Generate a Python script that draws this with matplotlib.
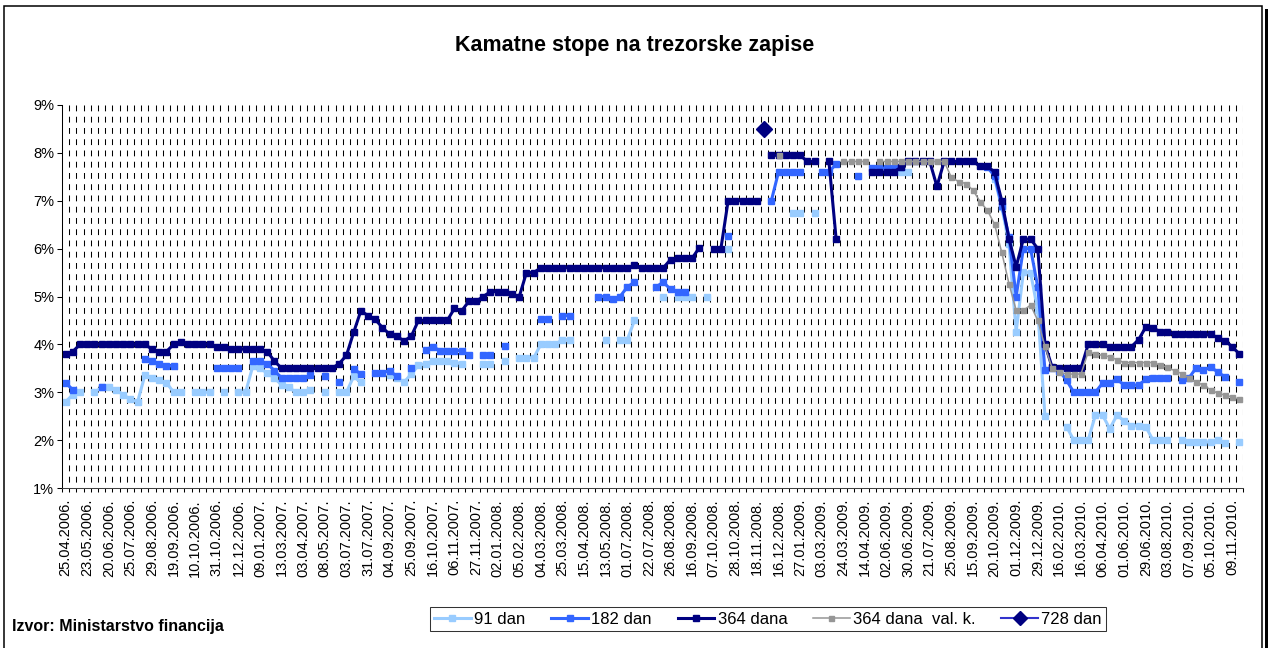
import numpy as np
import matplotlib.pyplot as plt
from matplotlib.patches import Rectangle
from matplotlib.lines import Line2D

plt.rcParams['font.family'] = ['Liberation Sans', 'DejaVu Sans']

# auction dates shown on the axis (every third auction)
dates = ['25.04.2006.', '23.05.2006.', '20.06.2006.', '25.07.2006.', '29.08.2006.',
         '19.09.2006.', '10.10.2006.', '31.10.2006.', '12.12.2006.', '09.01.2007.',
         '13.03.2007.', '03.04.2007.', '08.05.2007.', '03.07.2007.', '31.07.2007.',
         '04.09.2007.', '25.09.2007.', '16.10.2007.', '06.11.2007.', '27.11.2007.',
         '02.01.2008.', '05.02.2008.', '04.03.2008.', '25.03.2008.', '15.04.2008.',
         '13.05.2008.', '01.07.2008.', '22.07.2008.', '26.08.2008.', '16.09.2008.',
         '07.10.2008.', '28.10.2008.', '18.11.2008.', '16.12.2008.', '27.01.2009.',
         '03.03.2009.', '24.03.2009.', '14.04.2009.', '02.06.2009.', '30.06.2009.',
         '21.07.2009.', '25.08.2009.', '15.09.2009.', '20.10.2009.', '01.12.2009.',
         '29.12.2009.', '16.02.2010.', '16.03.2010.', '06.04.2010.', '01.06.2010.',
         '29.06.2010.', '03.08.2010.', '07.09.2010.', '05.10.2010.', '09.11.2010.']
n = None

# 91 dan
t91 = [2.8, 2.95, 3.0, n, 3.0, 3.1, 3.1, 3.05, 2.95, 2.85,
       2.8, 3.35, 3.3, 3.25, 3.2, 3.0, 3.0, n, 3.0, 3.0,
       3.0, n, 3.0, n, 3.0, 3.0, 3.55, 3.5, 3.4, 3.3,
       3.15, 3.1, 3.0, 3.0, 3.05, n, 3.0, n, 3.0, 3.0,
       3.33, 3.21, n, n, n, 3.36, 3.3, 3.21, 3.38, 3.56,
       3.6, 3.65, 3.65, 3.65, 3.62, 3.6, n, n, 3.6, 3.6,
       n, 3.65, n, 3.72, 3.72, 3.72, 4.0, 4.0, 4.0, 4.1,
       4.1, n, n, n, n, 4.1, n, 4.1, 4.1, 4.5,
       n, n, n, 5.0, n, 5.0, 5.0, 5.0, n, 5.0,
       n, n, 6.0, n, n, n, n, n, n, n,
       n, 6.75, 6.75, n, 6.75, n, n, n, n, n,
       n, n, n, n, n, n, 7.6, 7.6, n, n,
       n, n, n, n, n, n, n, n, n, 7.45,
       6.87, 6.1, 4.26, 5.51, 5.5, 4.71, 2.5, n, n, 2.28,
       2.0, 2.0, 2.0, 2.52, 2.52, 2.24, 2.52, 2.4, 2.3, 2.3,
       2.28, 2.0, 2.0, 2.0, n, 2.0, 1.96, 1.96, 1.96, 1.96,
       2.0, 1.93, n, 1.97]

# 182 dan
t182 = [3.2, 3.05, n, n, n, 3.1, n, n, n, n,
        n, 3.7, 3.65, 3.6, 3.55, 3.55, n, n, n, n,
        n, 3.5, 3.5, 3.5, 3.5, n, 3.65, 3.65, 3.6, 3.45,
        3.3, 3.3, 3.3, 3.3, 3.35, n, 3.33, n, 3.21, n,
        3.49, 3.38, n, 3.41, 3.41, 3.45, 3.33, n, 3.51, n,
        3.89, 3.95, 3.87, 3.87, 3.87, 3.87, 3.77, n, 3.77, 3.77,
        n, 3.97, n, n, n, n, 4.52, 4.52, n, 4.6,
        4.6, n, n, n, 5.0, 5.0, 4.95, 5.0, 5.2, 5.3,
        n, n, 5.2, 5.3, 5.15, 5.1, 5.1, n, n, n,
        n, n, 6.26, n, n, n, n, n, 7.0, 7.6,
        7.6, 7.6, 7.6, n, n, 7.6, 7.6, 7.77, n, n,
        7.51, n, 7.68, 7.68, 7.68, 7.68, 7.7, n, n, n,
        n, n, n, n, n, n, n, n, 7.7, 7.52,
        6.9, 6.25, 5.0, 6.0, 6.0, 5.2, 3.47, 3.5, 3.45, 3.25,
        3.0, 3.0, 3.0, 3.0, 3.19, 3.2, 3.27, 3.15, 3.15, 3.15,
        3.27, 3.3, 3.3, 3.3, n, 3.25, 3.3, 3.51, 3.46, 3.53,
        3.42, 3.32, n, 3.21]

# 364 dana
t364 = [3.8, 3.85, 4.0, 4.0, 4.0, 4.0, 4.0, 4.0, 4.0, 4.0,
        4.0, 4.0, 3.9, 3.85, 3.85, 4.0, 4.05, 4.0, 4.0, 4.0,
        4.0, 3.95, 3.95, 3.9, 3.9, 3.9, 3.9, 3.9, 3.85, 3.65,
        3.5, 3.5, 3.5, 3.5, 3.5, 3.5, 3.5, 3.5, 3.6, 3.77,
        4.25, 4.7, 4.6, 4.52, 4.35, 4.21, 4.17, 4.07, 4.17, 4.5,
        4.5, 4.5, 4.5, 4.5, 4.75, 4.7, 4.9, 4.9, 5.0, 5.1,
        5.1, 5.1, 5.05, 5.0, 5.5, 5.5, 5.6, 5.6, 5.6, 5.6,
        5.6, 5.6, 5.6, 5.6, 5.6, 5.6, 5.6, 5.6, 5.6, 5.65,
        5.6, 5.6, 5.6, 5.6, 5.77, 5.8, 5.8, 5.8, 6.02, n,
        6.0, 6.0, 7.0, 7.0, 7.0, 7.0, 7.0, n, 7.95, 7.95,
        7.95, 7.95, 7.95, 7.82, 7.82, n, 7.82, 6.2, n, n,
        n, n, 7.6, 7.6, 7.6, 7.6, 7.7, 7.82, 7.82, 7.82,
        7.82, 7.3, 7.82, 7.82, 7.82, 7.82, 7.82, 7.72, 7.72, 7.6,
        7.0, 6.21, 5.62, 6.2, 6.2, 6.0, 4.0, 3.52, 3.5, 3.5,
        3.5, 3.5, 4.0, 4.0, 4.0, 3.95, 3.95, 3.95, 3.95, 4.1,
        4.36, 4.35, 4.26, 4.26, 4.21, 4.21, 4.21, 4.21, 4.21, 4.21,
        4.14, 4.08, 3.95, 3.8]

# 364 dana val. k.
t364vk = [n] * 99 + [7.95, n, n, n, n, n, n, n, n, 7.82,
                      7.82, 7.82, 7.82, n, 7.82, 7.82, 7.82, 7.82, 7.82, 7.82,
                      7.82, 7.82, 7.82, 7.82, 7.49, 7.4, 7.36, 7.22, 6.98, 6.8,
                      6.51, 5.92, 5.27, 4.71, 4.71, 4.82, 4.5, 3.96, 3.5, 3.42,
                      3.38, 3.38, 3.38, 3.84, 3.8, 3.77, 3.74, 3.68, 3.62, 3.62,
                      3.62, 3.62, 3.62, 3.57, 3.52, 3.45, 3.39, 3.3, 3.21, 3.15,
                      3.05, 2.98, 2.94, 2.9, 2.85]

# 728 dan
t728 = [n] * 97 + [8.5] + [n] * 66

series = [
    ('91 dan', t91, '#99CCFF', 2.2, 's', 4.3),
    ('182 dan', t182, '#3366FF', 2.2, 's', 4.3),
    ('364 dana', t364, '#000080', 2.2, 's', 4.3),
    ('364 dana  val. k.', t364vk, '#969696', 1.1, 's', 3.6),
]

fig = plt.figure(figsize=(12.7, 6.48), dpi=100)
ax = fig.add_axes([62 / 1270, 1 - 488 / 648, 1181 / 1270, 383 / 648])

x = np.arange(len(t364))
handles = []
for label, vals, color, lw, mk, ms in series:
    y = np.array(vals, dtype=float)
    h, = ax.plot(x, y, color=color, lw=lw, marker=mk, ms=ms,
                 mec=color, mfc=color, label=label, solid_joinstyle='miter')
    handles.append(h)
y728 = np.array(t728, dtype=float)
ax.plot(x, y728, color='#333399', lw=1.5, marker='D', ms=8, mfc='#000080', mec='#000080',
        ls='none')
handles.append(Line2D([], [], color='#3333CC', lw=1.5, marker='D', ms=7,
                      mfc='#000080', mec='#000080', label='728 dan'))

ax.set_xlim(-0.5, len(x) - 0.5)
ax.set_ylim(1, 9)

# dashed vertical grid at category boundaries
bounds = np.arange(0.5, len(x), 1.0)
ax.vlines(bounds, 9, 1, colors='black', lw=0.75, linestyles=(0, (5.6, 5.2)), zorder=0)

ax.set_yticks(range(1, 10))
ax.set_yticklabels([f'{v}%' for v in range(1, 10)])
ax.set_xticks(np.arange(0, len(x), 3))
ax.set_xticklabels(dates, rotation=90)
ax.set_xticks(np.arange(-0.5, len(x), 1.0), minor=True)
ax.tick_params(axis='x', which='major', length=0, pad=8, labelsize=10.5)
ax.tick_params(axis='x', which='minor', length=3, width=0.75, direction='out')
ax.tick_params(axis='y', length=3.5, width=0.75, pad=2, labelsize=10.5)

for s in ['top', 'right']:
    ax.spines[s].set_visible(False)
ax.spines['left'].set_linewidth(0.75)
ax.spines['bottom'].set_linewidth(0.75)
ax.spines['bottom'].set_color('#404040')

fig.text(0.5, 1 - 45 / 648, 'Kamatne stope na trezorske zapise', ha='center', va='center',
         fontsize=15.5, fontweight='bold')
fig.text(12 / 1270, 1 - 626 / 648, 'Izvor: Ministarstvo financija', ha='left', va='center',
         fontsize=11.5, fontweight='bold')

leg = fig.legend(handles=handles, loc='center', bbox_to_anchor=(768 / 1270, 1 - 619 / 648),
                 ncol=5, fontsize=12, frameon=True, fancybox=False, handlelength=2.2,
                 handletextpad=0.2, columnspacing=1.55, borderpad=0.25, borderaxespad=0)
leg.get_frame().set_edgecolor('black')
leg.get_frame().set_linewidth(0.75)

# chart area border with shadow on the right
fig.patches.append(Rectangle((1265 / 1270, 0), 3 / 1270, 1 - 9 / 648, transform=fig.transFigure,
                             facecolor='black', edgecolor='none'))
fig.patches.append(Rectangle((3.5 / 1270, -0.05), 1258.5 / 1270, 1.05 - 6 / 648,
                             transform=fig.transFigure, facecolor='none',
                             edgecolor='black', lw=1.1))

fig.savefig('out.png', dpi=100)
